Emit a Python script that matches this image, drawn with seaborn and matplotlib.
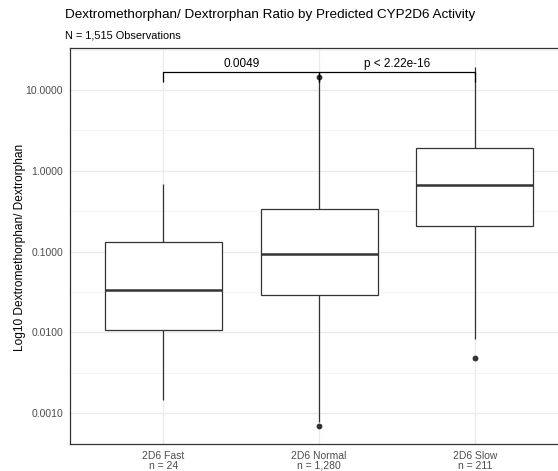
import numpy as np
import pandas as pd
import matplotlib
matplotlib.use("Agg")
import matplotlib.pyplot as plt
import seaborn as sns
from matplotlib.ticker import FixedLocator, FixedFormatter, NullFormatter

# Box statistics per predicted CYP2D6 activity group
groups = ["2D6 Fast", "2D6 Normal", "2D6 Slow"]
counts = ["24", "1,280", "211"]
whisker_low = [0.00146, 0.00078, 0.0083]
q1 = [0.01064, 0.0289, 0.21]
median = [0.0333, 0.0944, 0.664]
q3 = [0.132, 0.340, 1.92]
whisker_high = [0.689, 13.5, 19.5]
outliers_low = [[], [0.000697], [0.0048]]
outliers_high = [[], [14.7], []]

# Pairwise comparisons drawn as brackets above the boxes
comparisons = [(0, 1, "0.0049"), (1, 2, "p < 2.22e-16")]
bracket_y = 16.6
bracket_leg_y = 12.6
label_y = 21.0

y_ticks = [0.001, 0.01, 0.1, 1.0, 10.0]

# Rebuild each group's values so the quartiles and whisker ends land on the stats above
rows = []
for i, g in enumerate(groups):
    lows = outliers_low[i] + [whisker_low[i]] * (2 - len(outliers_low[i]))
    highs = [whisker_high[i]] * (2 - len(outliers_high[i])) + outliers_high[i]
    vals = lows + [q1[i], median[i], median[i], median[i], q3[i]] + highs
    rows += [(g, v) for v in vals]
df = pd.DataFrame(rows, columns=["group", "ratio"])

sns.set_theme(style="white")
plt.rcParams["font.family"] = ["Liberation Sans", "DejaVu Sans"]

fig = plt.figure(figsize=(5.58, 4.71), dpi=100)
ax = fig.add_axes([70 / 558, 27 / 471, (568.3 - 70) / 558, 396 / 471])

line_col = "#333333"
sns.boxplot(
    data=df, x="group", y="ratio", order=groups, log_scale=True, ax=ax,
    width=0.75, color="white", linecolor=line_col, linewidth=0.9,
    showcaps=False, whis=1.5,
    medianprops=dict(linewidth=1.8, color=line_col),
    flierprops=dict(marker="o", markersize=4.2, markerfacecolor=line_col,
                    markeredgecolor=line_col, markeredgewidth=0),
    zorder=2,
)

ax.set_xlim(-0.6, 2.6)
ax.set_ylim(10 ** -3.38, 10 ** 1.521)

# Grid: decades as major lines, half-decades as minor lines
ax.yaxis.set_major_locator(FixedLocator(y_ticks))
ax.yaxis.set_major_formatter(FixedFormatter([f"{t:.4f}" for t in y_ticks]))
minor = [10 ** (k + 0.5) for k in range(-4, 2)]
ax.yaxis.set_minor_locator(FixedLocator(minor))
ax.yaxis.set_minor_formatter(NullFormatter())
ax.set_axisbelow(True)
ax.grid(which="major", axis="both", color="#EBEBEB", linewidth=1.0)
ax.grid(which="minor", axis="y", color="#F2F2F2", linewidth=0.6)
ax.tick_params(which="minor", length=0)
ax.tick_params(which="major", length=3, width=0.8, color="#333333",
               labelsize=7.5, labelcolor="#4D4D4D", pad=2)

ax.set_xticks(range(len(groups)))
ax.set_xticklabels([f"{g}\nn = {n}" for g, n in zip(groups, counts)],
                   linespacing=0.95)

for s in ax.spines.values():
    s.set_color("#333333")
    s.set_linewidth(0.9)

ax.set_xlabel("")
ax.set_ylabel("")

# Comparison brackets
for a, b, lab in comparisons:
    ax.plot([a, a, b, b], [bracket_leg_y, bracket_y, bracket_y, bracket_leg_y],
            color="black", linewidth=0.9, zorder=3, solid_capstyle="butt")
    ax.text((a + b) / 2, label_y, lab, ha="center", va="center",
            fontsize=8.5, color="black")

fig.text(65 / 558, 1 - 15 / 471, "Dextromethorphan/ Dextrorphan Ratio by Predicted CYP2D6 Activity",
         ha="left", va="center", fontsize=9.7, color="black")
fig.text(65 / 558, 1 - 36 / 471, "N = 1,515 Observations",
         ha="left", va="center", fontsize=7.9, color="black")
fig.text(20 / 558, 1 - 247 / 471, "Log10 Dextromethorphan/ Dextrorphan",
         rotation=90, ha="center", va="center", fontsize=8.6, color="black")

fig.savefig("out.png", dpi=100)
